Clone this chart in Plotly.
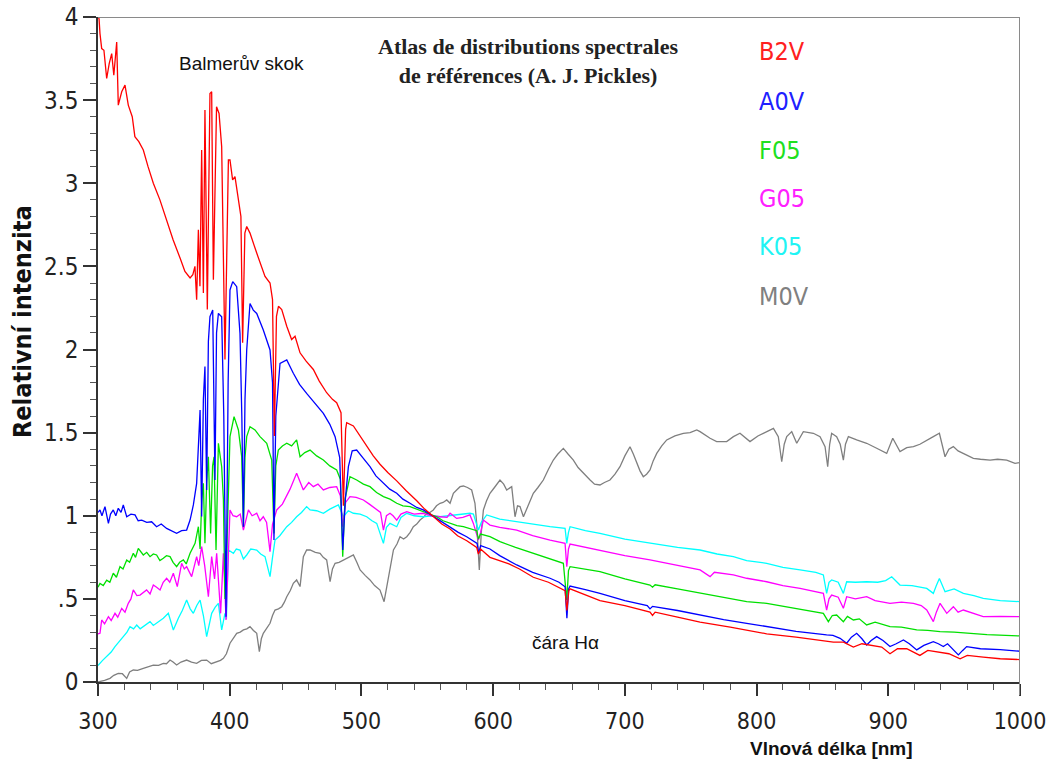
import plotly.graph_objects as go

# ---------------- data (wavelength nm, relative intensity) ----------------
b2v = [(300.0,4.00),(300.8,3.99),(301.5,3.90),(302.8,3.81),(304.5,3.80),(306.6,3.63),(308.5,3.72),(310.4,3.78),
 (312.0,3.65),(314.2,3.85),(315.4,3.47),(318.0,3.55),(320.5,3.59),(323.0,3.47),(326.0,3.40),(328.0,3.28),
 (331.0,3.25),(334.4,3.20),(338.0,3.10),(342.0,3.00),(347.0,2.90),(352.0,2.78),(357.0,2.66),(362.3,2.55),
 (366.0,2.47),(369.9,2.43),(372.0,2.45),(373.6,2.50),(374.9,2.30),(376.2,2.72),(377.4,2.38),(378.7,3.20),
 (380.0,2.34),(381.2,3.44),(383.0,2.24),(385.0,3.54),(386.3,3.55),(387.6,2.42),(390.0,3.46),(391.9,3.42),
 (393.9,3.22),(396.4,1.94),(399.0,3.14),(400.2,3.14),(402.2,3.02),(404.0,3.04),(406.5,2.92),(408.5,2.80),
 (409.8,2.04),(411.5,2.70),(412.9,2.74),(415.4,2.70),(420.5,2.58),(426.8,2.44),(430.6,2.40),(432.5,2.30),
 (433.9,1.48),(435.5,2.20),(437.0,2.26),(439.5,2.24),(443.3,2.14),(447.0,2.06),(449.6,2.08),(453.4,1.98),
 (458.0,1.93),(463.5,1.88),(468.0,1.81),(473.6,1.74),(478.0,1.70),(481.2,1.68),(484.5,1.62),(486.3,1.06),
 (488.0,1.52),(488.8,1.56),(493.9,1.54),(499.0,1.48),(504.0,1.42),(509.0,1.36),(514.1,1.31),(520.0,1.26),
 (526.8,1.21),(534.0,1.15),(542.0,1.09),(548.0,1.04),(554.6,0.995),(561.0,0.95),(567.3,0.92),(573.0,0.88),
 (580.0,0.85),(587.5,0.81),(588.8,0.77),(590.5,0.80),(597.6,0.75),(605.2,0.73),(612.0,0.71),(620.0,0.68),
 (630.5,0.63),(642.0,0.60),(652.0,0.56),(654.6,0.55),(656.0,0.43),(657.5,0.55),(658.4,0.56),(668.0,0.53),
 (681.1,0.49),(700.0,0.46),(719.1,0.42),(721.0,0.40),(723.0,0.42),(740.0,0.39),(757.1,0.36),(780.0,0.33),
 (807.7,0.29),(830.0,0.27),(850.0,0.25),(858.3,0.24),(866.0,0.24),(873.5,0.21),(880.0,0.23),(888.7,0.22),
 (895.0,0.21),(901.3,0.17),(907.0,0.20),(914.0,0.20),(924.0,0.16),(930.0,0.19),(939.3,0.18),(946.0,0.17),
 (954.5,0.14),(960.0,0.16),(972.1,0.15),(985.0,0.14),(1000.0,0.135)]

a0v = [(300.0,1.02),(301.5,1.035),(303.0,1.00),(305.3,1.055),(307.9,0.954),(309.5,1.01),(311.6,1.035),(313.5,1.00),
 (315.4,1.045),(317.5,1.02),(319.2,1.065),(321.8,0.994),(325.0,1.01),(328.1,1.005),(330.5,0.97),(333.2,0.974),
 (337.0,0.96),(340.7,0.964),(344.5,0.934),(348.0,0.95),(352.1,0.924),(356.0,0.91),(359.7,0.894),(363.5,0.91),
 (367.3,0.914),(369.9,0.974),(372.4,1.065),(374.9,1.195),(376.5,1.50),(377.5,1.636),(378.7,0.995),(380.0,1.70),
 (381.2,1.897),(382.5,1.155),(383.8,2.05),(385.0,2.197),(387.1,2.237),(388.8,1.215),(390.0,2.10),(391.4,2.217),
 (393.9,2.197),(395.5,1.60),(397.2,0.393),(398.8,1.80),(400.2,2.358),(402.3,2.408),(405.3,2.378),(407.8,2.097),
 (409.2,1.60),(410.4,0.934),(411.6,1.70),(412.9,1.997),(415.4,2.277),(417.9,2.237),(420.5,2.217),(425.5,2.117),
 (430.6,1.997),(432.5,1.80),(433.6,0.854),(435.0,1.60),(438.2,1.917),(443.3,1.937),(448.3,1.857),(453.0,1.79),
 (458.4,1.736),(465.0,1.67),(471.1,1.616),(476.0,1.55),(480.0,1.476),(483.5,1.35),(485.8,0.794),(487.8,1.10),
 (490.1,1.295),(493.0,1.39),(496.4,1.395),(501.0,1.35),(506.5,1.295),(511.0,1.24),(516.7,1.195),(521.5,1.16),
 (526.8,1.135),(531.5,1.10),(536.9,1.075),(542.0,1.05),(547.0,1.035),(552.0,1.01),(557.2,0.985),(562.0,0.96),
 (567.3,0.934),(573.5,0.90),(579.9,0.874),(585.0,0.85),(587.8,0.834),(589.0,0.774),(590.5,0.82),(597.6,0.80),
 (605.0,0.76),(617.9,0.704),(630.0,0.66),(643.2,0.624),(650.0,0.60),(654.6,0.573),(656.0,0.383),(657.3,0.56),
 (658.4,0.577),(670.0,0.555),(681.1,0.533),(700.0,0.49),(717.0,0.46),(719.1,0.44),(721.0,0.455),(740.0,0.43),
 (757.1,0.403),(775.0,0.375),(792.5,0.353),(807.7,0.333),(830.0,0.305),(853.2,0.283),(858.0,0.28),(863.4,0.263),
 (868.4,0.233),(872.0,0.27),(876.0,0.293),(880.0,0.26),(883.6,0.223),(887.0,0.25),(891.2,0.273),(896.0,0.25),
 (901.3,0.213),(906.0,0.23),(911.5,0.253),(916.0,0.23),(921.6,0.193),(927.0,0.22),(934.2,0.243),(938.0,0.23),
 (941.8,0.213),(945.0,0.23),(949.0,0.20),(953.2,0.163),(956.5,0.19),(959.5,0.213),(970.0,0.20),(985.0,0.195),
 (1000.0,0.185)]

f05 = [(300.0,0.57),(301.5,0.593),(304.0,0.58),(306.6,0.613),(309.0,0.60),(311.6,0.654),(314.0,0.63),(316.7,0.694),
 (319.0,0.68),(321.8,0.734),(324.0,0.72),(326.8,0.774),(328.5,0.75),(330.6,0.804),(334.4,0.764),(337.0,0.78),
 (339.5,0.754),(342.0,0.77),(344.5,0.764),(347.0,0.73),(349.6,0.744),(352.0,0.76),(354.7,0.754),(357.0,0.72),
 (359.7,0.694),(362.0,0.72),(364.8,0.734),(367.0,0.71),(369.9,0.774),(373.7,0.834),(376.2,0.934),(377.5,0.80),
 (378.8,1.10),(380.0,1.195),(381.2,0.834),(382.5,1.20),(383.8,1.355),(385.5,0.894),(387.0,1.30),(388.1,1.355),
 (389.6,0.794),(391.4,1.436),(393.9,1.295),(395.2,1.10),(396.4,0.50),(397.8,0.80),(400.2,1.476),(403.3,1.596),
 (406.6,1.516),(409.1,1.355),(410.4,0.934),(411.6,1.35),(412.9,1.476),(415.4,1.536),(419.2,1.516),(423.0,1.476),
 (428.1,1.436),(431.9,1.335),(433.6,0.894),(435.0,1.30),(436.9,1.395),(440.0,1.42),(443.3,1.436),(447.0,1.42),
 (450.8,1.456),(453.4,1.355),(457.0,1.38),(461.0,1.395),(466.0,1.36),(471.1,1.335),(476.0,1.30),(481.2,1.275),
 (484.0,1.22),(485.8,0.754),(487.5,1.10),(491.3,1.235),(496.4,1.215),(501.5,1.19),(506.5,1.175),(511.5,1.14),
 (516.7,1.115),(521.7,1.10),(526.8,1.075),(531.5,1.06),(536.9,1.055),(542.0,1.04),(547.0,1.025),(552.0,1.01),
 (557.2,0.994),(562.0,0.97),(567.3,0.954),(572.5,0.94),(577.4,0.934),(583.0,0.92),(587.5,0.91),(588.8,0.86),
 (590.5,0.89),(597.6,0.874),(605.2,0.844),(617.0,0.81),(630.5,0.774),(642.0,0.74),(653.3,0.714),(655.9,0.493),
 (657.2,0.67),(658.4,0.694),(670.0,0.68),(681.1,0.664),(700.0,0.62),(719.1,0.583),(721.0,0.57),(723.0,0.585),
 (740.0,0.56),(757.1,0.535),(775.0,0.51),(792.5,0.483),(807.7,0.473),(830.0,0.44),(850.7,0.413),(854.5,0.363),
 (857.5,0.40),(860.8,0.403),(865.9,0.363),(869.0,0.395),(873.5,0.373),(878.0,0.38),(883.6,0.343),(890.0,0.36),
 (901.3,0.333),(910.0,0.33),(921.6,0.313),(930.0,0.31),(939.3,0.303),(950.0,0.30),(959.5,0.293),(975.0,0.285),
 (1000.0,0.277)]

g05 = [(300.0,0.29),(301.5,0.293),(302.8,0.373),(305.0,0.35),(307.9,0.393),(310.0,0.37),(312.9,0.413),(315.0,0.39),
 (318.0,0.443),(320.5,0.42),(323.0,0.473),(325.0,0.50),(326.8,0.554),(329.5,0.52),(331.9,0.523),(334.5,0.54),
 (336.9,0.554),(339.5,0.53),(342.0,0.584),(344.5,0.57),(347.1,0.554),(349.5,0.60),(352.1,0.624),(354.5,0.60),
 (357.2,0.654),(360.2,0.574),(363.5,0.714),(365.5,0.68),(367.3,0.694),(371.1,0.634),(374.9,0.754),(376.5,0.70),
 (378.7,0.814),(381.0,0.70),(383.8,0.513),(386.3,0.754),(388.5,0.62),(390.1,0.774),(393.1,0.413),(395.2,0.774),
 (397.2,0.373),(400.2,1.035),(402.5,1.00),(405.3,0.994),(408.0,1.01),(410.4,0.914),(414.2,1.035),(417.0,1.00),
 (420.5,1.015),(423.0,0.97),(425.5,0.994),(428.0,0.96),(430.6,0.784),(432.5,0.95),(435.7,1.035),(440.0,1.07),
 (445.8,1.16),(450.8,1.255),(455.9,1.155),(460.0,1.20),(463.5,1.175),(467.0,1.19),(471.1,1.155),(476.0,1.17),
 (481.2,1.175),(484.0,1.12),(485.8,0.934),(488.0,1.08),(491.3,1.115),(496.0,1.11),(501.5,1.095),(506.0,1.07),
 (511.6,1.035),(514.5,1.02),(516.7,0.914),(519.0,1.00),(521.7,1.015),(524.0,1.00),(526.8,0.974),(530.0,1.01),
 (534.4,1.025),(540.0,1.01),(547.0,1.015),(553.0,1.00),(559.7,0.994),(565.0,0.99),(567.3,1.015),(572.3,0.984),
 (577.0,0.99),(582.4,1.005),(585.0,0.954),(588.8,0.854),(590.5,0.90),(592.6,0.974),(597.6,0.944),(605.0,0.93),
 (617.9,0.914),(630.0,0.88),(643.2,0.854),(650.0,0.84),(654.6,0.834),(655.9,0.694),(657.2,0.80),(658.4,0.830),
 (670.0,0.81),(681.1,0.794),(700.0,0.76),(719.1,0.734),(740.0,0.70),(757.1,0.674),(764.7,0.634),(768.0,0.66),
 (782.4,0.644),(792.5,0.624),(807.7,0.603),(820.0,0.58),(833.0,0.563),(845.0,0.54),(850.7,0.533),(853.2,0.433),
 (855.0,0.50),(857.0,0.523),(862.0,0.51),(865.9,0.443),(868.4,0.513),(875.0,0.50),(883.6,0.513),(890.0,0.49),
 (901.3,0.473),(910.0,0.48),(919.1,0.473),(925.0,0.46),(929.2,0.433),(934.2,0.363),(936.5,0.42),(939.3,0.473),
 (944.4,0.413),(949.4,0.453),(953.0,0.42),(957.0,0.433),(965.0,0.41),(972.1,0.393),(985.0,0.395),(1000.0,0.393)]

k05 = [(300.0,0.10),(300.3,0.102),(303.5,0.13),(306.6,0.152),(310.0,0.18),(312.9,0.213),(316.0,0.24),(319.2,0.273),
 (322.0,0.30),(324.3,0.333),(327.0,0.32),(329.4,0.343),(332.0,0.32),(334.4,0.333),(337.0,0.35),(339.5,0.363),
 (342.0,0.34),(344.5,0.353),(347.0,0.37),(349.6,0.383),(353.4,0.413),(357.2,0.313),(361.0,0.383),(364.0,0.43),
 (367.3,0.493),(370.0,0.44),(372.4,0.413),(375.0,0.46),(377.5,0.493),(380.0,0.40),(382.5,0.273),(384.5,0.36),
 (386.3,0.413),(389.0,0.45),(391.4,0.473),(393.9,0.313),(396.4,0.413),(397.5,0.38),(399.0,0.794),(402.8,0.774),
 (405.0,0.80),(407.8,0.794),(410.4,0.74),(412.9,0.764),(416.0,0.80),(420.5,0.794),(423.5,0.77),(426.8,0.754),
 (430.6,0.634),(432.5,0.75),(434.4,0.854),(438.0,0.88),(443.3,0.934),(447.0,0.96),(450.8,0.994),(454.5,1.02),
 (458.4,1.055),(461.0,1.035),(466.0,1.03),(471.1,1.015),(476.0,1.04),(482.5,1.065),(486.3,0.994),(490.0,1.03),
 (493.9,1.015),(499.0,1.01),(504.0,0.994),(508.0,0.97),(511.6,0.954),(516.7,0.834),(519.0,0.93),(521.7,0.954),
 (526.8,0.934),(530.0,0.99),(534.4,1.015),(540.0,1.00),(547.0,0.994),(553.0,1.00),(559.7,0.994),(566.0,1.00),
 (572.3,1.005),(578.0,1.01),(582.4,1.015),(585.0,1.01),(588.8,0.914),(591.0,0.96),(595.1,1.005),(605.0,0.98),
 (617.9,0.964),(630.0,0.95),(643.2,0.934),(654.6,0.924),(655.9,0.834),(657.2,0.90),(658.4,0.934),(670.0,0.91),
 (681.1,0.894),(700.0,0.86),(719.1,0.834),(740.0,0.81),(757.1,0.794),(770.0,0.77),(782.4,0.754),(792.5,0.73),
 (807.7,0.714),(820.0,0.69),(833.0,0.674),(845.0,0.66),(850.7,0.644),(853.2,0.533),(855.0,0.60),(857.0,0.614),
 (862.0,0.60),(865.9,0.533),(868.4,0.603),(875.0,0.60),(883.6,0.603),(892.0,0.60),(898.0,0.61),(902.6,0.633),
 (908.9,0.583),(918.0,0.58),(929.2,0.563),(934.2,0.533),(936.5,0.58),(938.8,0.623),(943.1,0.543),(950.0,0.56),
 (957.0,0.533),(965.0,0.52),(972.1,0.503),(985.0,0.49),(1000.0,0.483)]

m0v = [(300.0,0.00),(301.5,0.002),(305.0,0.01),(309.1,0.022),(312.0,0.04),(315.4,0.052),(318.5,0.05),(321.8,0.022),
 (324.0,0.06),(326.8,0.072),(330.0,0.07),(334.4,0.082),(338.0,0.09),(342.0,0.102),(346.0,0.10),(349.6,0.112),
 (352.0,0.11),(354.7,0.132),(357.0,0.12),(359.7,0.102),(363.0,0.12),(367.3,0.132),(371.0,0.12),(374.9,0.112),
 (378.5,0.13),(382.5,0.132),(386.0,0.11),(390.1,0.122),(393.0,0.13),(395.2,0.142),(397.5,0.17),(400.2,0.233),
 (403.0,0.27),(405.3,0.293),(408.0,0.30),(410.4,0.313),(413.0,0.32),(415.4,0.333),(418.0,0.31),(420.5,0.293),
 (422.5,0.183),(424.0,0.26),(425.5,0.293),(428.0,0.32),(430.6,0.353),(432.5,0.40),(434.4,0.433),(437.0,0.44),
 (439.5,0.453),(441.5,0.48),(443.3,0.513),(446.0,0.55),(448.3,0.594),(450.8,0.614),(453.4,0.574),(455.9,0.754),
 (458.4,0.794),(461.0,0.794),(465.0,0.78),(468.6,0.774),(471.0,0.75),(473.6,0.734),(476.2,0.604),(478.0,0.68),
 (480.0,0.714),(483.0,0.72),(486.3,0.734),(490.0,0.75),(493.9,0.764),(496.5,0.72),(499.0,0.674),(503.0,0.64),
 (506.5,0.614),(510.0,0.58),(514.1,0.553),(517.2,0.483),(520.4,0.614),(522.5,0.70),(524.3,0.794),(527.0,0.83),
 (529.3,0.874),(532.0,0.86),(534.4,0.874),(537.0,0.90),(539.4,0.934),(542.0,0.95),(544.5,0.974),(547.0,0.99),
 (549.6,1.015),(552.0,1.02),(554.6,1.035),(557.0,1.06),(559.7,1.075),(562.0,1.08),(564.8,1.095),(567.3,1.075),
 (569.8,1.135),(572.3,1.155),(574.9,1.175),(577.4,1.179),(580.5,1.17),(583.7,1.155),(586.2,1.075),(587.5,0.954),
 (589.5,0.674),(591.0,0.90),(592.6,1.035),(595.0,1.09),(597.6,1.135),(601.0,1.17),(605.2,1.215),(608.0,1.19),
 (610.3,1.155),(614.1,1.175),(616.6,0.994),(618.5,1.06),(620.4,1.055),(623.0,0.994),(626.5,1.06),(630.5,1.135),
 (634.0,1.17),(638.1,1.215),(642.0,1.28),(645.7,1.335),(649.0,1.37),(653.3,1.405),(657.0,1.37),(660.9,1.335),
 (664.5,1.29),(668.5,1.255),(673.6,1.215),(677.0,1.19),(681.1,1.185),(684.5,1.20),(688.7,1.215),(692.5,1.25),
 (696.3,1.295),(700.0,1.36),(703.9,1.415),(706.5,1.37),(709.0,1.315),(711.5,1.27),(714.0,1.235),(716.5,1.25),
 (719.1,1.275),(721.5,1.33),(724.2,1.375),(728.0,1.42),(731.8,1.456),(738.0,1.48),(744.4,1.496),(749.5,1.50),
 (754.6,1.516),(757.1,1.506),(764.7,1.466),(769.7,1.446),(777.3,1.446),(782.4,1.476),(787.4,1.496),(795.0,1.446),
 (801.0,1.48),(807.7,1.506),(812.8,1.526),(816.5,1.476),(819.1,1.325),(821.0,1.43),(822.9,1.476),(826.7,1.506),
 (830.5,1.436),(835.5,1.506),(843.1,1.496),(848.2,1.476),(852.0,1.416),(854.0,1.295),(855.5,1.43),(857.0,1.496),
 (860.8,1.476),(863.5,1.43),(865.9,1.335),(867.5,1.43),(869.7,1.476),(876.0,1.456),(883.6,1.436),(891.2,1.406),
 (898.8,1.375),(903.4,1.466),(908.9,1.386),(914.0,1.41),(919.1,1.416),(924.0,1.43),(929.2,1.456),(934.2,1.476),
 (938.8,1.496),(941.0,1.43),(943.1,1.355),(946.0,1.40),(949.4,1.416),(953.0,1.39),(957.0,1.375),(964.6,1.345),
 (970.0,1.34),(977.3,1.335),(983.0,1.34),(989.9,1.335),(996.2,1.315),(1000.0,1.32)]

series_names = ["M0V", "K05", "G05", "F05", "A0V", "B2V"]
series_data = [m0v, k05, g05, f05, a0v, b2v]
line_colors = ["#7f7f7f", "#00ffff", "#ff00ff", "#00e000", "#0000ff", "#ff0000"]

legend_labels = ["B2V", "A0V", "F05", "G05", "K05", "M0V"]
legend_colors = ["#ff2020", "#2020ff", "#20e020", "#ff20ff", "#20f4f4", "#808080"]
legend_y = [3.79, 3.49, 3.20, 2.91, 2.62, 2.32]

x_ticks = [300, 400, 500, 600, 700, 800, 900, 1000]
y_ticks = [0, 0.5, 1, 1.5, 2, 2.5, 3, 3.5, 4]
y_ticktext = ["0", ".5", "1", "1.5", "2", "2.5", "3", "3.5", "4"]

NARROW = "Liberation Sans Narrow, Arial Narrow, DejaVu Sans Condensed, sans-serif"

fig = go.Figure()
for name, data, col in zip(series_names, series_data, line_colors):
    fig.add_trace(go.Scatter(
        x=[p[0] for p in data], y=[p[1] for p in data], mode="lines", name=name,
        line=dict(color=col, width=1.3), showlegend=False))

W, H = 1046, 768
ML, MR, MT, MB = 98, 26, 17, 86
pw, ph = W - ML - MR, H - MT - MB

annotations = []
for lab, col, yy in zip(legend_labels, legend_colors, legend_y):
    annotations.append(dict(x=800, y=yy, xref="x", yref="y", text=lab, showarrow=False,
                            xanchor="left", yanchor="middle",
                            font=dict(family=NARROW, size=25, color=col)))
annotations += [
    dict(x=627, y=3.735, xref="x", yref="y", showarrow=False, xanchor="center", yanchor="middle",
         text="<b>Atlas de distributions spectrales</b><br><b>de références (A. J. Pickles)</b>",
         font=dict(family="Liberation Serif, DejaVu Serif, serif", size=22, color="#222")),
    dict(x=409, y=3.72, xref="x", yref="y", showarrow=False, xanchor="center", yanchor="middle",
         text="Balmerův skok", font=dict(family="Liberation Sans, Arial, sans-serif", size=19, color="#111")),
    dict(x=655, y=0.24, xref="x", yref="y", showarrow=False, xanchor="center", yanchor="middle",
         text="čára Hα", font=dict(family="Liberation Sans, Arial, sans-serif", size=19, color="#111")),
    dict(x=(22 - ML) / pw, y=(H - MB - 322) / ph, xref="paper", yref="paper",
         xanchor="center", yanchor="middle", showarrow=False,
         textangle=-90, text="<b>Relativní intenzita</b>",
         font=dict(family=NARROW, size=25, color="#111")),
    dict(x=(831 - ML) / pw, y=-(748 - (H - MB)) / ph, xref="paper", yref="paper",
         xanchor="center", yanchor="middle", showarrow=False,
         text="<b>Vlnová délka [nm]</b>",
         font=dict(family="Liberation Sans, Arial, sans-serif", size=19, color="#111")),
]

fig.update_layout(
    width=W, height=H, margin=dict(l=ML, r=MR, t=MT, b=MB, autoexpand=False),
    paper_bgcolor="white", plot_bgcolor="white",
    annotations=annotations,
    xaxis=dict(range=[300, 1000], tickvals=x_ticks, ticks="outside", ticklen=12, tickwidth=1.5,
               tickcolor="#333", showline=True, linecolor="#333", linewidth=1.5, showgrid=False,
               zeroline=False, ticklabelstandoff=6, ticklabeloverflow="allow", automargin=False,
               tickfont=dict(family=NARROW, size=23, color="#222"),
               minor=dict(dtick=20, ticks="outside", ticklen=6, tickwidth=1.2, tickcolor="#555")),
    yaxis=dict(range=[0, 4], tickvals=y_ticks, ticktext=y_ticktext, ticks="outside", ticklen=13,
               tickwidth=1.5, tickcolor="#333", showline=True, linecolor="#333", linewidth=1.5,
               showgrid=False, zeroline=False, automargin=False,
               tickfont=dict(family=NARROW, size=24, color="#222"),
               minor=dict(dtick=0.1, ticks="outside", ticklen=6, tickwidth=1.2, tickcolor="#555")),
    shapes=[
        dict(type="line", xref="x", yref="y", x0=300, x1=1000, y0=4, y1=4,
             line=dict(color="#8a8a8a", width=2)),
        dict(type="line", xref="x", yref="paper", x0=1000, x1=1000, y0=-0.02, y1=1,
             line=dict(color="#8a8a8a", width=2)),
    ],
)

fig.write_html("out.html")
